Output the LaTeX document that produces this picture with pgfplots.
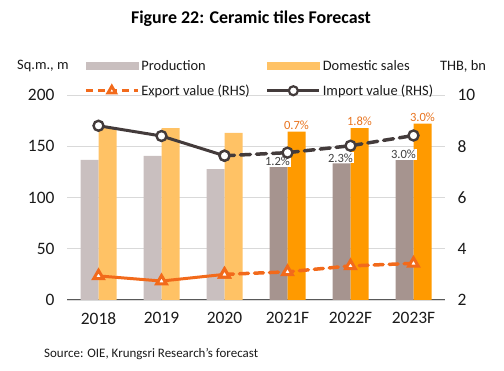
\documentclass[border=0pt]{standalone}
\usepackage{pgfplots}
\pgfplotsset{compat=1.18}
\usepackage{fontspec}
\setmainfont{Carlito}
\definecolor{prodh}{HTML}{C9BFBF}
\definecolor{prodf}{HTML}{A6948F}
\definecolor{domh}{HTML}{FFC265}
\definecolor{domf}{HTML}{FF9A00}
\definecolor{expc}{HTML}{F26A1B}
\definecolor{impc}{HTML}{433B3B}
\definecolor{gridc}{HTML}{D9D9D9}
\definecolor{txt}{HTML}{1A1A1A}
\definecolor{axc}{HTML}{595959}
\definecolor{lblg}{HTML}{404040}
\definecolor{lblo}{HTML}{E8731E}
\begin{document}
\begin{tikzpicture}
\useasboundingbox (0,0) rectangle (504bp,371bp);
\pgfplotsset{base/.style={at={(67bp,71bp)}, anchor=south west, scale only axis,
  width=378bp, height=205bp, xmin=-0.5, xmax=5.5,
  /pgf/number format/assume math mode=true,
  tick label style={font=\fontsize{17.5}{20}\selectfont, text=txt},
  major tick length=0pt}}
\begin{axis}[base, ymin=0, ymax=200, ytick={0,50,100,150,200},
  ymajorgrids, grid style={gridc, line width=0.8bp},
  axis x line*=bottom, axis y line*=left,
  y axis line style={draw=none}, x axis line style={axc, line width=1bp, -},
  xtick={0,...,5}, xticklabels={2018,2019,2020,2021F,2022F,2023F},
  xticklabel style={yshift=-9bp},
  yticklabel style={xshift=-9bp},
  ybar, bar width=18bp,
  nodes near coords style={font=\fontsize{12.6}{14}\selectfont, fill=white, inner sep=1bp, anchor=south}]
\addplot[fill=prodh, draw=none, bar shift=-9bp] coordinates {(0,136.6)(1,140.5)(2,127.8)};
\addplot[fill=prodf, draw=none, bar shift=-9bp, nodes near coords, point meta=explicit symbolic,
  every node near coord/.append style={text=lblg, xshift=-1bp}]
  coordinates {(3,130)[1.2\%] (4,133.3)[2.3\%] (5,136.6)[3.0\%]};
\addplot[fill=domh, draw=none, bar shift=9bp] coordinates {(0,168)(1,167.8)(2,163)};
\addplot[fill=domf, draw=none, bar shift=9bp, nodes near coords, point meta=explicit symbolic,
  every node near coord/.append style={text=lblo, fill=none, yshift=1bp}]
  coordinates {(3,164.2)[0.7\%] (4,167.8)[1.8\%] (5,172)[3.0\%]};
\end{axis}
\begin{axis}[base, ymin=2, ymax=10, ytick={2,4,6,8,10},
  axis y line*=right, axis x line=none, y axis line style={draw=none},
  yticklabel style={xshift=9bp},
  legend columns=2,
  legend style={at={(0,1)}, anchor=north west, xshift=14bp, yshift=39bp, draw=none, fill=none,
    font=\fontsize{14.5}{17}\selectfont, text=txt, row sep=9bp,
    /tikz/every even column/.append style={column sep=14bp}},
  legend cell align=left]
\addlegendimage{legend image code/.code={\fill[prodh] (0bp,-3.5bp) rectangle (52bp,3.5bp);}}
\addlegendentry{Production}
\addlegendimage{legend image code/.code={\fill[domh] (0bp,-3.5bp) rectangle (52bp,3.5bp);}}
\addlegendentry{Domestic sales}
\addlegendimage{legend image code/.code={
  \draw[expc, line width=3.2bp, dash pattern=on 7bp off 5bp] (0bp,0bp) -- (52bp,0bp);
  \draw[expc, line width=2.8bp, fill=white] plot[mark=triangle*, mark size=4.5bp] coordinates {(26bp,0bp)};}}
\addlegendentry{Export value (RHS)}
\addlegendimage{legend image code/.code={
  \draw[impc, line width=3bp] (0bp,0bp) -- (52bp,0bp);
  \draw[impc, line width=2.2bp, fill=white] plot[mark=*, mark size=4.5bp] coordinates {(26bp,0bp)};}}
\addlegendentry{Import value (RHS)}
\addplot[expc, line width=3bp, mark=triangle*, mark size=5.5bp, mark options={fill=white, solid, line width=3bp}, forget plot]
  coordinates {(0,2.94)(1,2.74)(2,3.0)};
\addplot[expc, line width=3.5bp, dash pattern=on 9bp off 6bp, line cap=round, mark=triangle*, mark size=5.5bp, mark options={fill=white, solid, line width=3bp}, forget plot]
  coordinates {(2,3.0)(3,3.1)(4,3.33)(5,3.43)};
\addplot[impc, line width=3bp, mark=*, mark size=5bp, mark options={fill=white, solid, line width=2.4bp}, forget plot]
  coordinates {(0,8.8)(1,8.4)(2,7.63)};
\addplot[impc, line width=3.5bp, dash pattern=on 10bp off 6bp, line cap=round, mark=*, mark size=5bp, mark options={fill=white, solid, line width=2.4bp}, forget plot]
  coordinates {(2,7.63)(3,7.75)(4,8.02)(5,8.42)};
\end{axis}
\node[font=\bfseries\fontsize{18}{21}\selectfont, text=black] at (251bp,352bp) {Figure 22: Ceramic tiles Forecast};
\node[font=\fontsize{14.5}{17}\selectfont, text=txt, anchor=west, inner sep=0] at (17bp,305bp) {Sq.m., m};
\node[font=\fontsize{14.5}{17}\selectfont, text=txt, anchor=west, inner sep=0] at (440bp,305bp) {THB, bn};
\node[font=\fontsize{13}{15}\selectfont, text=txt, anchor=west, inner sep=0] at (44bp,17bp) {Source: OIE, Krungsri Research’s forecast};
\end{tikzpicture}
\end{document}
